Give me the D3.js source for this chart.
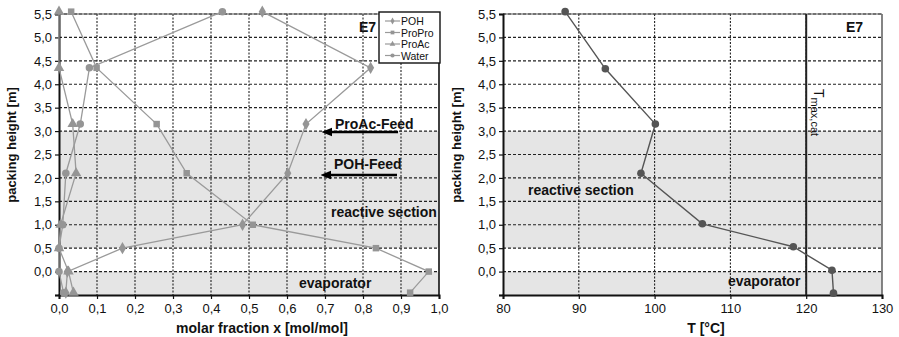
<!DOCTYPE html>
<html><head><meta charset="utf-8">
<script src="https://cdn.jsdelivr.net/npm/d3@7"></script>
<style>
body{margin:0;background:#fff;}
svg{display:block;font-family:"Liberation Sans",Arial,sans-serif;}
</style></head>
<body>
<svg id="c" width="899" height="337"></svg>
<script>
// ---- data ----
const heights = [5.55, 4.35, 3.15, 2.1, 1.0, 0.5, 0.0, -0.45];
const seriesNames = ["POH", "ProPro", "ProAc", "Water"];
const pohX    = [0.535, 0.82, 0.65, 0.602, 0.483, 0.167, 0.022, 0.018];
const proproX = [0.032, 0.099, 0.257, 0.336, 0.51, 0.834, 0.973, 0.924];
const proacX  = [0.0, 0.0, 0.036, 0.045, 0.004, 0.0, 0.025, 0.038];
const waterX  = [0.43, 0.08, 0.056, 0.018, 0.01, 0.0, 0.0, 0.012];
const tempHeights = [5.55, 4.33, 3.15, 2.1, 1.02, 0.53, 0.03, -0.46];
const tempT = [88.2, 93.5, 100.1, 98.2, 106.3, 118.3, 123.4, 123.6];
const tMaxCat = 120;
const xTicksLeft = [0,0.1,0.2,0.3,0.4,0.5,0.6,0.7,0.8,0.9,1.0];
const xTicksRight = [80,90,100,110,120,130];
const yTicks = [0.0,0.5,1.0,1.5,2.0,2.5,3.0,3.5,4.0,4.5,5.0,5.5];
const bands = [[0.5,3.0],[-0.5,0.0]];

const svg = d3.select("#c");
const fmt = d => d3.format(".1f")(d).replace(".", ",");
const pTop = 14, pBottom = 295;
const y = d3.scaleLinear().domain([-0.5, 5.5]).range([pBottom, pTop]);

function panel(x0, x1, xDomain, xTicks, xFmt, rightBorderColor, yTitleX, xTitle, xTitleX) {
  const x = d3.scaleLinear().domain(xDomain).range([x0, x1]);
  const g = svg.append("g");
  bands.forEach(b => {
    g.append("rect").attr("x", x0).attr("width", x1 - x0)
      .attr("y", y(b[1])).attr("height", y(b[0]) - y(b[1]))
      .attr("fill", "#e5e5e5");
  });
  g.selectAll(".hg").data(yTicks).join("line")
    .attr("x1", x0).attr("x2", x1).attr("y1", d => y(d)).attr("y2", d => y(d))
    .attr("stroke", "#222").attr("stroke-width", 1.1).attr("stroke-dasharray", "3,2");
  g.selectAll(".vg").data(xTicks.slice(1, -1)).join("line")
    .attr("x1", d => x(d)).attr("x2", d => x(d)).attr("y1", pTop).attr("y2", pBottom)
    .attr("stroke", "#222").attr("stroke-width", 1.1).attr("stroke-dasharray", "2,1.5");
  g.append("line").attr("x1", x0).attr("x2", x1).attr("y1", pTop).attr("y2", pTop)
    .attr("stroke", "#555").attr("stroke-width", 1.2);
  g.append("line").attr("x1", x1).attr("x2", x1).attr("y1", pTop).attr("y2", pBottom)
    .attr("stroke", rightBorderColor).attr("stroke-width", 1.6);
  const yAxis = d3.axisLeft(y).tickValues(yTicks.concat([-0.5])).tickSize(4)
    .tickFormat(d => d < 0 ? "" : fmt(d));
  const ya = g.append("g").attr("transform", `translate(${x0},0)`).call(yAxis);
  const xAxis = d3.axisBottom(x).tickValues(xTicks).tickSize(4).tickFormat(xFmt);
  const xa = g.append("g").attr("transform", `translate(0,${pBottom})`).call(xAxis);
  [ya, xa].forEach(a => {
    a.select(".domain").attr("stroke", "#111").attr("stroke-width", 2);
    a.selectAll(".tick line").attr("stroke", "#111").attr("stroke-width", 1.2);
    a.selectAll("text").attr("fill", "#111").style("font-size", "13px")
      .style("font-family", "'Liberation Sans',Arial,sans-serif");
  });
  ya.selectAll("text").attr("x", -7);
  xa.selectAll("text").attr("y", 9);
  svg.append("text").attr("transform", `translate(${yTitleX},145) rotate(-90)`)
    .attr("text-anchor", "middle").attr("dominant-baseline", "middle")
    .style("font-size", "13px").style("font-weight", "bold").attr("fill", "#111")
    .text("packing height [m]");
  svg.append("text").attr("x", xTitleX).attr("y", 333)
    .attr("text-anchor", "middle")
    .style("font-size", "14px").style("font-weight", "bold").attr("fill", "#111")
    .text(xTitle);
  return { x, g };
}

// ---------- left panel ----------
const L = panel(59, 439, [0, 1], xTicksLeft, d => fmt(d), "#111", 13, "molar fraction x [mol/mol]", 262);
const lineCol = "#9a9a9a", markCol = "#959595";
const symTypes = [d3.symbolDiamond, d3.symbolSquare, d3.symbolTriangle, d3.symbolCircle];
const symSizes = [44, 42, 48, 44];
const allSeries = [pohX, proproX, proacX, waterX];
const line = d3.line();
allSeries.forEach((vals, i) => {
  const pts = vals.map((v, j) => [L.x(v), y(heights[j])]);
  L.g.append("path").attr("d", line(pts)).attr("fill", "none")
    .attr("stroke", lineCol).attr("stroke-width", 1.3);
});
allSeries.forEach((vals, i) => {
  L.g.selectAll(null).data(vals).join("path")
    .attr("transform", (v, j) => `translate(${L.x(v)},${y(heights[j])})`)
    .attr("d", d3.symbol().type(symTypes[i]).size(symSizes[i]))
    .attr("fill", markCol);
});
const lg = svg.append("g");
lg.append("rect").attr("x", 379).attr("y", 12).attr("width", 61).attr("height", 51)
  .attr("fill", "#fff").attr("stroke", "#111").attr("stroke-width", 1.4);
seriesNames.forEach((n, i) => {
  const yy = 21 + i * 11.5;
  lg.append("line").attr("x1", 385).attr("x2", 400).attr("y1", yy).attr("y2", yy)
    .attr("stroke", lineCol).attr("stroke-width", 1.2);
  lg.append("path").attr("transform", `translate(392.5,${yy})`)
    .attr("d", d3.symbol().type(symTypes[i]).size(14)).attr("fill", markCol);
  lg.append("text").attr("x", 401).attr("y", yy).attr("dominant-baseline", "central")
    .style("font-size", "10.5px").attr("fill", "#111").text(n);
});
function label(x, yb, t, size) {
  svg.append("text").attr("x", x).attr("y", yb).style("font-size", (size || 14) + "px")
    .style("font-weight", "bold").attr("fill", "#111").text(t);
}
label(359, 32, "E7");
label(335, 129, "ProAc-Feed");
label(334, 169, "POH-Feed");
label(331, 217, "reactive section");
label(299, 288, "evaporator");
const defs = svg.append("defs");
defs.append("marker").attr("id", "ah").attr("viewBox", "0 0 10 10").attr("refX", 2).attr("refY", 5)
  .attr("markerWidth", 4).attr("markerHeight", 4).attr("orient", "auto-start-reverse")
  .append("path").attr("d", "M0,1 L10,5 L0,9 Z").attr("fill", "#000");
[[398, 132, 330], [397, 175, 329]].forEach(a => {
  svg.append("line").attr("x1", a[0]).attr("x2", a[2]).attr("y1", a[1]).attr("y2", a[1])
    .attr("stroke", "#000").attr("stroke-width", 2.6).attr("marker-end", "url(#ah)");
});

// ---------- right panel ----------
const R = panel(503, 882, [80, 130], xTicksRight, d => d, "#666", 458, "T [°C]", 706);
R.g.append("line").attr("x1", R.x(tMaxCat)).attr("x2", R.x(tMaxCat)).attr("y1", pTop).attr("y2", pBottom)
  .attr("stroke", "#222").attr("stroke-width", 2);
const tpts = tempT.map((t, j) => [R.x(t), y(tempHeights[j])]);
R.g.append("path").attr("d", line(tpts)).attr("fill", "none").attr("stroke", "#555").attr("stroke-width", 1.4);
R.g.selectAll(null).data(tempT).join("circle")
  .attr("cx", t => R.x(t)).attr("cy", (t, j) => y(tempHeights[j])).attr("r", 3.8).attr("fill", "#555");
const tl = svg.append("text").attr("transform", `translate(${R.x(tMaxCat) + 8},89) rotate(90)`)
  .attr("fill", "#111");
tl.append("tspan").style("font-size", "14px").text("T");
tl.append("tspan").style("font-size", "11px").attr("dy", 3).text("max,cat");
label(846, 32, "E7");
label(528, 195, "reactive section");
label(728, 286, "evaporator");
</script>
</body></html>
